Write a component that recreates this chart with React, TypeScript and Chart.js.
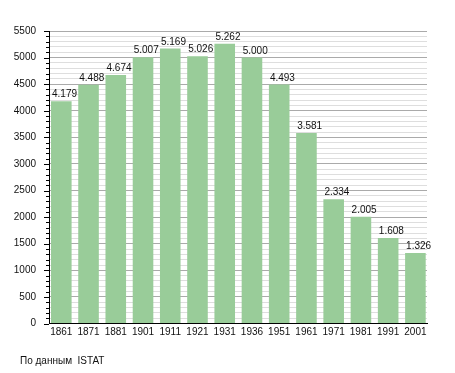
import React, { useEffect, useRef } from "react";
import { Chart, registerables } from "chart.js";

Chart.register(...registerables);

const years = ["1861", "1871", "1881", "1901", "1911", "1921", "1931", "1936", "1951", "1961", "1971", "1981", "1991", "2001"];
const population = [4179, 4488, 4674, 5007, 5169, 5026, 5262, 5000, 4493, 3581, 2334, 2005, 1608, 1326];
const yMax = 5500;
const yMinorStep = 100;
const yMajorStep = 500;
const sourceNote = "По данным  ISTAT";

const FONT = "'Liberation Sans', Arial, sans-serif";

const fmt = (v: number) =>
  v >= 1000 ? Math.floor(v / 1000) + "." + String(v % 1000).padStart(3, "0") : String(v);

const extrasPlugin = {
  id: "extras",
  afterDraw(chart: any) {
    const ctx = chart.ctx;
    const area = chart.chartArea;
    const yScale = chart.scales.y;
    ctx.save();
    ctx.strokeStyle = "#000";
    ctx.lineWidth = 1;
    ctx.beginPath();
    yScale.ticks.forEach((t: any) => {
      const py = Math.round(yScale.getPixelForValue(t.value)) + 0.5;
      const len = t.value % yMajorStep === 0 ? 5 : 3;
      ctx.moveTo(area.left - len, py);
      ctx.lineTo(area.left, py);
    });
    ctx.stroke();
    const meta = chart.getDatasetMeta(0);
    ctx.fillStyle = "#111";
    ctx.font = "10px " + FONT;
    ctx.textAlign = "left";
    ctx.textBaseline = "alphabetic";
    meta.data.forEach((bar: any, i: number) => {
      const left = bar.x - bar.width / 2;
      ctx.fillText(fmt(population[i]), left + 1, bar.y - 4);
    });
    ctx.restore();
  },
};

export default function App() {
  const ref = useRef<HTMLCanvasElement>(null);
  useEffect(() => {
    document.body.style.margin = "0";
    const chart = new Chart(ref.current!, {
      type: "bar",
      data: {
        datasets: [
          {
            data: population.map((v, i) => ({ x: i, y: v })),
            backgroundColor: "#99cc99",
            borderWidth: 0,
            categoryPercentage: 1,
            barPercentage: 0.756,
          },
        ],
      },
      options: {
        animation: false,
        responsive: false,
        layout: { padding: { top: 31, right: 28, left: 0, bottom: 0 } },
        plugins: { legend: { display: false }, tooltip: { enabled: false } },
        scales: {
          x: {
            type: "linear",
            offset: false,
            min: -0.4516,
            max: 13.426,
            grid: { display: false, drawTicks: false, offset: false },
            border: { display: true, color: "#000", width: 1 },
            ticks: {
              stepSize: 1,
              includeBounds: false,
              autoSkip: false,
              maxRotation: 0,
              padding: 3,
              color: "#111",
              font: { size: 10, family: FONT },
              callback: (v: any) => (Number.isInteger(v) ? years[v] ?? "" : ""),
            },
            afterFit: (s: any) => {
              s.height = 49.5;
            },
          },
          y: {
            min: 0,
            max: yMax,
            grid: {
              drawTicks: false,
              color: (c: any) => (c.tick && c.tick.value % yMajorStep === 0 ? "#aaaaaa" : "#dedede"),
            },
            border: { display: true, color: "#000", width: 1 },
            ticks: {
              stepSize: yMinorStep,
              autoSkip: false,
              padding: 13,
              color: "#111",
              font: { size: 10, family: FONT },
              callback: (v: any) => (v % yMajorStep === 0 ? String(v) : ""),
            },
            afterFit: (s: any) => {
              s.width = 49;
            },
          },
        },
      },
      plugins: [extrasPlugin],
    });
    return () => chart.destroy();
  }, []);
  return (
    <div style={{ position: "relative", width: 455, height: 373 }}>
      <canvas ref={ref} width={455} height={373} />
      <div
        style={{
          position: "absolute",
          left: 20,
          top: 355,
          fontFamily: FONT,
          fontSize: 10,
          color: "#111",
          whiteSpace: "pre",
          lineHeight: "12px",
        }}
      >
        {sourceNote}
      </div>
    </div>
  );
}
